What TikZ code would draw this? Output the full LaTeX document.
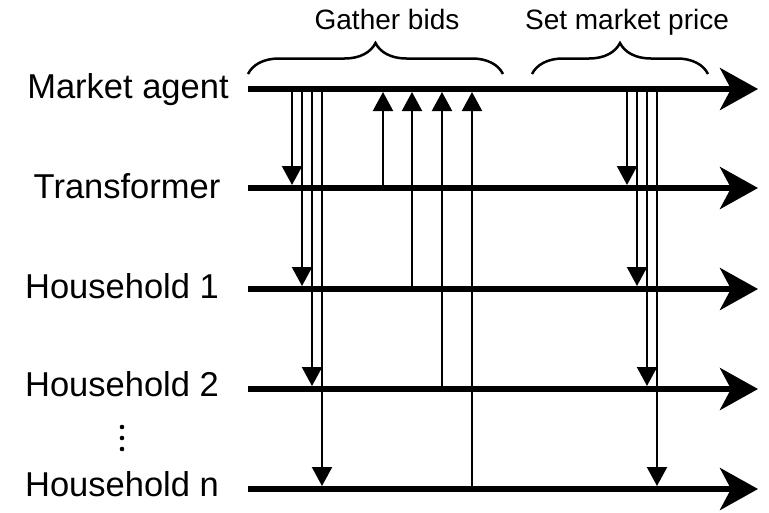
\documentclass[tikz,border=0pt]{standalone}
\usepackage{fontspec}
\setmainfont{Liberation Sans}
\usetikzlibrary{arrows.meta,decorations.pathreplacing}
\begin{document}
\begin{tikzpicture}[x=1pt,y=1pt,
  timeline/.style={line width=6pt,-{Stealth[length=38pt,width=42pt,inset=11pt]}},
  msg/.style={line width=2.2pt,-{Triangle[length=19pt,width=20pt]},shorten >=3pt},
  lbl/.style={font=\fontsize{34.5}{38}\selectfont,anchor=base,inner sep=0pt},
  phase/.style={font=\fontsize{28}{32}\selectfont,anchor=base,inner sep=0pt},
  bracebox/.style={line width=2.5pt,decorate,decoration={brace,amplitude=31pt}}]
\useasboundingbox (0,0) rectangle (769,-512);
% timeline end points
\coordinate (ma) at (248,-89);  \coordinate (maE) at (758,-89);
\coordinate (tr) at (248,-188); \coordinate (trE) at (758,-188);
\coordinate (h1) at (248,-289); \coordinate (h1E) at (758,-289);
\coordinate (h2) at (248,-389); \coordinate (h2E) at (758,-389);
\coordinate (hn) at (248,-489); \coordinate (hnE) at (758,-489);
% labels
\node[lbl] (lma) at (128,-98) {Market agent};
\node[lbl] (ltr) at (127,-198) {Transformer};
\node[lbl] (lh1) at (122,-298) {Household 1};
\node[lbl] (lh2) at (122,-396) {Household 2};
\node[lbl] (lhn) at (122,-496) {Household n};
\foreach \yy in {-427,-438,-449} \fill (122,\yy) circle (2.3pt);
% timelines
\draw[timeline] (ma) -- (maE);
\draw[timeline] (tr) -- (trE);
\draw[timeline] (h1) -- (h1E);
\draw[timeline] (h2) -- (h2E);
\draw[timeline] (hn) -- (hnE);
% columns
\coordinate (g1) at (292,0); \coordinate (g2) at (302,0);
\coordinate (g3) at (312,0); \coordinate (g4) at (322,0);
\coordinate (u1) at (383,0); \coordinate (u2) at (412,0);
\coordinate (u3) at (442,0); \coordinate (u4) at (472,0);
\coordinate (p1) at (627,0); \coordinate (p2) at (637,0);
\coordinate (p3) at (647,0); \coordinate (p4) at (657,0);
% gather: requests down
\draw[msg] (g1 |- ma) -- (g1 |- tr);
\draw[msg] (g2 |- ma) -- (g2 |- h1);
\draw[msg] (g3 |- ma) -- (g3 |- h2);
\draw[msg] (g4 |- ma) -- (g4 |- hn);
% bids up
\draw[msg] (u1 |- tr) -- (u1 |- ma);
\draw[msg] (u2 |- h1) -- (u2 |- ma);
\draw[msg] (u3 |- h2) -- (u3 |- ma);
\draw[msg] (u4 |- hn) -- (u4 |- ma);
% price down
\draw[msg] (p1 |- ma) -- (p1 |- tr);
\draw[msg] (p2 |- ma) -- (p2 |- h1);
\draw[msg] (p3 |- ma) -- (p3 |- h2);
\draw[msg] (p4 |- ma) -- (p4 |- hn);
% braces
\coordinate (b1s) at (248,-74); \coordinate (b1e) at (503,-74);
\coordinate (b2s) at (532,-74); \coordinate (b2e) at (708,-74);
\draw[bracebox] (b1s) -- (b1e);
\draw[bracebox] (b2s) -- (b2e);
\node[phase] (tg) at (387,-29) {Gather bids};
\node[phase] (tp) at (627,-29) {Set market price};
\end{tikzpicture}
\end{document}
